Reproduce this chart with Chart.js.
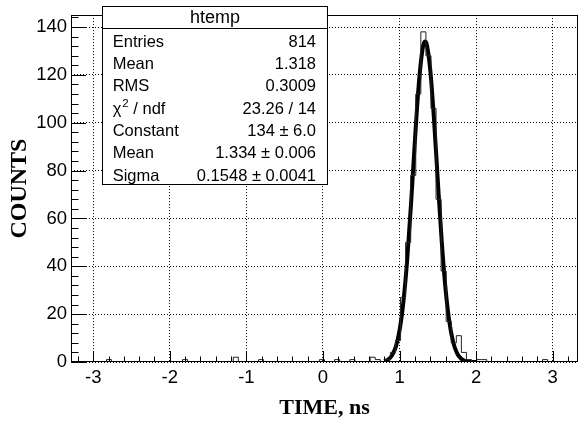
<!DOCTYPE html>
<html>
<head>
<meta charset="utf-8">
<script src="https://cdn.jsdelivr.net/npm/chart.js@4.4.0/dist/chart.umd.min.js"></script>
<style>
  html, body { margin: 0; padding: 0; background: #fff; }
</style>
</head>
<body>
<canvas id="chart" width="588" height="423"></canvas>
<script>
// histogram range (100 bins, like ROOT's htemp)
const xMin = -3.29;
const xMax = 3.33;
const binWidth = 0.0662;

// counts per bin
const counts = [
  0, 0, 0, 0, 0, 0, 0, 1, 0, 0,
  0, 0, 0, 0, 0, 0, 0, 0, 0, 0,
  0, 0, 1, 0, 0, 0, 0, 0, 0, 0,
  0, 0, 2, 0, 0, 0, 0, 1, 0, 0,
  0, 0, 0, 0, 0, 0, 0, 0, 0, 1,
  0, 0, 1, 0, 0, 1, 0, 0, 0, 2,
  1, 0, 1, 4, 9, 27, 50, 78, 112, 138,
  128, 106, 68, 38, 17, 8, 11, 4, 1, 0,
  1, 1, 0, 0, 0, 0, 0, 0, 0, 0,
  0, 0, 0, 1, 0, 0, 0, 0, 0, 0
];

// gaussian fit curve
const fitX = [0.80, 0.85, 0.90, 0.95, 1.00, 1.05, 1.10, 1.15, 1.20, 1.25, 1.30, 1.33, 1.35,
              1.40, 1.45, 1.50, 1.55, 1.60, 1.65, 1.70, 1.75, 1.80, 1.85, 1.90, 1.95, 2.00];
const fitY = [0.4, 1.0, 2.7, 6.2, 13.2, 25.1, 42.9, 66.2, 92.2, 115.7, 130.8, 134.0, 133.3,
              122.4, 101.3, 75.5, 50.7, 30.7, 16.8, 8.3, 3.7, 1.5, 0.5, 0.2, 0.05, 0.0];

const xTickVals = [-3, -2, -1, 0, 1, 2, 3];
const yTickVals = [0, 20, 40, 60, 80, 100, 120, 140];
const yMax = 145;

// stats box ("^2" = superscript)
const statTitle = 'htemp';
const statLabels = ['Entries', 'Mean', 'RMS', 'χ^2 / ndf', 'Constant', 'Mean', 'Sigma'];
const statValues = ['814', '1.318', '0.3009', '23.26 / 14', '134 ± 6.0', '1.334 ± 0.006', '0.1548 ± 0.0041'];

const histPoints = counts.map((c, i) => ({ x: xMin + i * binWidth, y: c }));
histPoints.push({ x: xMax, y: 0 });
const fitPoints = fitX.map((x, i) => ({ x: x, y: fitY[i] }));

const tickFont = { family: 'Liberation Sans', size: 18.5 };
const titleFont = { family: 'Liberation Serif', size: 22, weight: 'bold' };

// draw a label, with "^2" drawn as a raised small 2
function drawLabel(ctx, text, x, base) {
  const parts = text.split('^2');
  ctx.textAlign = 'left';
  ctx.fillText(parts[0], x, base);
  if (parts.length < 2) return;
  let cx = x + ctx.measureText(parts[0]).width + 1;
  const oldFont = ctx.font;
  ctx.font = '11.5px "Liberation Sans"';
  ctx.fillText('2', cx, base - 7);
  cx += ctx.measureText('2').width;
  ctx.font = oldFont;
  ctx.fillText(parts[1], cx, base);
}

// frame, inward ticks and the stats box, ROOT style
const rootFrame = {
  id: 'rootFrame',
  afterDatasetsDraw(chart) {
    const { ctx, chartArea: a, scales: { x, y } } = chart;
    ctx.save();
    ctx.strokeStyle = '#000';
    ctx.lineWidth = 1;
    ctx.setLineDash([]);

    ctx.beginPath();
    for (let k = 0; k <= 36; k++) {
      const v = k * 4;
      if (v > yMax) break;
      const py = Math.round(y.getPixelForValue(v)) + 0.5;
      const len = v % 20 === 0 ? 15 : 7.5;
      ctx.moveTo(a.left, py);
      ctx.lineTo(a.left + len, py);
    }
    for (let k = -16; k <= 16; k++) {
      const v = k * 0.2;
      if (v < xMin || v > xMax) continue;
      const px = Math.round(x.getPixelForValue(v)) + 0.5;
      const len = k % 5 === 0 ? 11 : 5.5;
      ctx.moveTo(px, a.bottom);
      ctx.lineTo(px, a.bottom - len);
    }
    ctx.stroke();

    ctx.strokeRect(Math.round(a.left) + 0.5, Math.round(a.top) + 0.5,
                   Math.round(a.width) - 1, Math.round(a.height) - 1);

    // stats box
    const bx = 102.5, by = 6.5, bw = 225, bh = 178;
    ctx.fillStyle = '#fff';
    ctx.fillRect(bx, by, bw, bh);
    ctx.strokeRect(bx, by, bw, bh);
    ctx.beginPath();
    ctx.moveTo(bx, 28.5);
    ctx.lineTo(bx + bw, 28.5);
    ctx.stroke();

    ctx.fillStyle = '#000';
    ctx.textBaseline = 'alphabetic';
    ctx.font = '18px "Liberation Sans"';
    ctx.textAlign = 'center';
    ctx.fillText(statTitle, bx + bw / 2, 22.5);

    ctx.font = '16.5px "Liberation Sans"';
    statLabels.forEach((lab, i) => {
      const base = 46.7 + i * 22.3;
      drawLabel(ctx, lab, 112.7, base);
      ctx.textAlign = 'right';
      ctx.fillText(statValues[i], 316, base);
    });
    ctx.restore();
  }
};

new Chart(document.getElementById('chart'), {
  type: 'line',
  data: {
    datasets: [{
      label: 'htemp',
      data: histPoints,
      stepped: true,
      borderColor: '#222',
      borderWidth: 1,
      pointRadius: 0,
      fill: false
    }, {
      label: 'gaus',
      data: fitPoints,
      borderColor: '#000',
      borderWidth: 4,
      pointRadius: 0,
      tension: 0.4,
      cubicInterpolationMode: 'monotone',
      fill: false
    }]
  },
  options: {
    responsive: false,
    animation: false,
    layout: { padding: { left: 0, right: 10, top: 6, bottom: 0 } },
    plugins: {
      legend: { display: false },
      tooltip: { enabled: false }
    },
    scales: {
      x: {
        type: 'linear',
        min: xMin,
        max: xMax,
        afterBuildTicks: s => { s.ticks = xTickVals.map(v => ({ value: v })); },
        afterFit: s => { s.height = 61; },
        grid: { color: '#000', lineWidth: 1, drawTicks: false },
        border: { display: false, dash: [1, 2] },
        ticks: {
          font: tickFont, color: '#000', padding: 5,
          maxRotation: 0, autoSkip: false,
          callback: v => String(v)
        },
        title: { display: true, text: 'TIME, ns', font: titleFont, color: '#000', padding: { top: 0, bottom: 1.5 } }
      },
      y: {
        min: 0,
        max: yMax,
        afterBuildTicks: s => { s.ticks = yTickVals.map(v => ({ value: v })); },
        afterFit: s => { s.width = 71; },
        grid: { color: '#000', lineWidth: 1, drawTicks: false },
        border: { display: false, dash: [1, 2] },
        ticks: {
          font: tickFont, color: '#000', padding: 4,
          autoSkip: false,
          callback: v => String(v)
        },
        title: {
          display: true, text: 'COUNTS', color: '#000', padding: { top: 5, bottom: 0 },
          font: { family: 'Liberation Serif', size: 24, weight: 'bold' }
        }
      }
    }
  },
  plugins: [rootFrame]
});
</script>
</body>
</html>
